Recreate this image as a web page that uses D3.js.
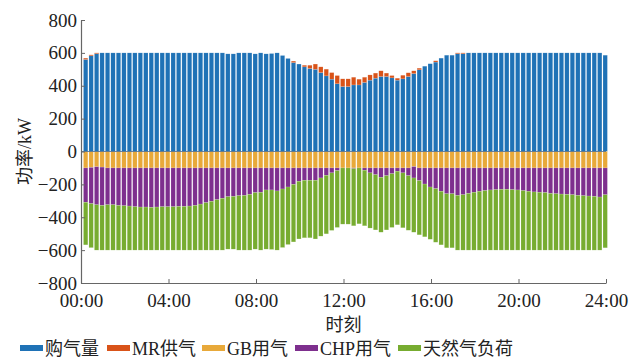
<!DOCTYPE html>
<html>
<head>
<meta charset="utf-8">
<script src="https://cdn.jsdelivr.net/npm/d3@7"></script>
<style>
  body { margin: 0; background: #fff; }
  svg text { font-family: "Liberation Serif", "Times New Roman", "Noto Sans CJK SC", serif; fill: #222; }
</style>
</head>
<body>
<svg width="641" height="360"></svg>
<script>
const svg = d3.select("svg");

// 15 min steps, 96 bars
const slots = d3.range(1, 97);

const buyGas = [560, 582, 595, 600, 600, 600, 600, 600, 600, 600, 600, 600, 600, 600, 600, 600,
  600, 600, 600, 600, 600, 600, 600, 600, 600, 600, 594, 594, 600, 600, 600, 594,
  600, 594, 596, 600, 584, 566, 541, 532, 515, 505, 500, 480, 460, 440, 412, 395,
  395, 405, 405, 420, 434, 446, 456, 456, 448, 434, 442, 456, 474, 497, 519, 534,
  544, 568, 586, 586, 595, 595, 600, 600, 600, 600, 600, 600, 600, 600, 600, 600,
  600, 600, 600, 600, 600, 600, 600, 600, 600, 600, 600, 600, 600, 600, 600, 586];

const mrGas = [8, 6, 5, 0, 0, 0, 0, 0, 0, 0, 0, 0, 0, 0, 0, 0,
  0, 0, 0, 0, 0, 0, 0, 0, 0, 0, 0, 0, 0, 0, 0, 0,
  0, 0, 0, 0, 0, 0, 9, 0, 10, 20, 32, 35, 41, 40, 50, 47,
  47, 47, 35, 32, 32, 31, 35, 21, 14, 12, 22, 23, 17, 10, 0, 0,
  8, 0, 0, 0, 5, 5, 0, 0, 0, 0, 0, 0, 0, 0, 0, 0,
  0, 0, 0, 0, 0, 0, 0, 0, 0, 0, 0, 0, 0, 0, 0, 0];

const gbGas = [100, 97, 93, 95, 100, 100, 100, 100, 100, 100, 100, 100, 100, 100, 100, 100,
  100, 100, 100, 100, 100, 100, 100, 100, 100, 100, 100, 100, 100, 100, 100, 100,
  100, 100, 100, 100, 100, 100, 100, 100, 100, 100, 100, 100, 100, 100, 100, 100,
  100, 100, 100, 100, 100, 100, 100, 100, 100, 100, 100, 100, 92, 100, 100, 100,
  100, 100, 100, 100, 100, 100, 100, 100, 100, 100, 100, 100, 100, 100, 100, 100,
  100, 100, 100, 100, 100, 100, 100, 100, 100, 100, 100, 100, 100, 100, 100, 100];

const chpGas = [209, 220, 231, 233, 224, 224, 228, 230, 232, 236, 238, 238, 240, 238, 236, 236,
  236, 234, 234, 232, 228, 220, 211, 203, 193, 185, 175, 173, 169, 167, 161, 150,
  148, 134, 134, 140, 128, 116, 100, 81, 75, 75, 75, 61, 45, 30, 16, 0,
  0, 4, 0, 14, 30, 41, 57, 47, 35, 20, 30, 47, 69, 77, 98, 116,
  126, 142, 157, 157, 167, 163, 155, 148, 142, 138, 134, 132, 130, 130, 132, 134,
  138, 142, 146, 148, 150, 155, 157, 159, 161, 163, 167, 169, 171, 173, 177, 163];

const gasLoad = [259, 268, 276, 272, 276, 276, 272, 270, 268, 264, 262, 262, 260, 262, 264, 264,
  264, 266, 266, 268, 272, 280, 289, 297, 307, 315, 319, 321, 331, 333, 339, 344,
  352, 360, 362, 360, 356, 350, 350, 351, 350, 350, 357, 354, 356, 350, 346, 342,
  342, 348, 340, 338, 336, 336, 334, 330, 327, 326, 334, 332, 330, 330, 321, 318,
  326, 326, 329, 329, 333, 337, 345, 352, 358, 362, 366, 368, 370, 370, 368, 366,
  362, 358, 354, 352, 350, 345, 343, 341, 339, 337, 333, 331, 329, 327, 323, 323];

const seriesNames = ["购气量", "MR供气", "GB用气", "CHP用气", "天然气负荷"];
const seriesColors = ["#1f72b6", "#d95319", "#e8a93a", "#7e2f8e", "#77ac30"];
const yTicks = [-800, -600, -400, -200, 0, 200, 400, 600, 800];
const xTicks = [0, 4, 8, 12, 16, 20, 24];

const keys = ["buy", "mr", "gb", "chp", "load"];
const rows = slots.map((s, i) => ({
  slot: s,
  buy: buyGas[i],
  mr: mrGas[i],
  gb: -gbGas[i],
  chp: -chpGas[i],
  load: -gasLoad[i]
}));

const stacked = d3.stack().keys(keys).offset(d3.stackOffsetDiverging)(rows);

const x = d3.scaleLinear().domain([0, 24]).range([81, 606]);
const y = d3.scaleLinear().domain([-800, 800]).range([283, 20]);
const color = d3.scaleOrdinal().domain(keys).range(seriesColors);

const step = x(0.25) - x(0);
const barW = step * 0.8;

svg.append("g")
  .selectAll("g")
  .data(stacked)
  .join("g")
  .attr("fill", d => color(d.key))
  .selectAll("rect")
  .data(d => d)
  .join("rect")
  .attr("x", d => x(d.data.slot * 0.25) - 0.8 - barW / 2)
  .attr("width", barW)
  .attr("y", d => y(Math.max(d[0], d[1])))
  .attr("height", d => Math.abs(y(d[0]) - y(d[1])))
  .attr("stroke", "rgba(255,255,255,0.35)")
  .attr("stroke-width", 0.4);

// zero line
svg.append("line")
  .attr("x1", x(0)).attr("x2", x(24))
  .attr("y1", y(0)).attr("y2", y(0))
  .attr("stroke", "#4a6a8a").attr("stroke-width", 0.8);

// axes, ticks inward like MATLAB
const yAxis = svg.append("g")
  .attr("transform", `translate(${x(0)},0)`)
  .call(d3.axisLeft(y).tickValues(yTicks).tickSizeInner(-4).tickSizeOuter(0).tickPadding(4));

const xAxis = svg.append("g")
  .attr("transform", `translate(0,${y(-800)})`)
  .call(d3.axisBottom(x).tickValues(xTicks).tickSizeInner(-4).tickSizeOuter(0).tickPadding(10)
    .tickFormat(d => String(d).padStart(2, "0") + ":00"));

[yAxis, xAxis].forEach(g => {
  g.select(".domain").attr("stroke", "#666").attr("stroke-width", 1.2);
  g.selectAll(".tick line").attr("stroke", "#666");
  g.selectAll(".tick text").attr("fill", "#222");
});
yAxis.selectAll(".tick text").style("font-size", "19px");
xAxis.selectAll(".tick text").style("font-size", "19px").attr("dy", "0.75em");

svg.append("text")
  .attr("transform", `translate(31,${y(0)}) rotate(-90)`)
  .attr("text-anchor", "middle")
  .style("font-size", "18px")
  .text("功率/kW");

svg.append("text")
  .attr("x", (x(0) + x(24)) / 2)
  .attr("y", 331)
  .attr("text-anchor", "middle")
  .style("font-size", "18px")
  .text("时刻");

// legend
const legendX = [20, 107, 202, 295, 398];
const leg = svg.append("g")
  .selectAll("g")
  .data(seriesNames)
  .join("g")
  .attr("transform", (d, i) => `translate(${legendX[i]},348)`);

leg.append("rect")
  .attr("x", 0).attr("y", -3)
  .attr("width", 23).attr("height", 6)
  .attr("fill", (d, i) => seriesColors[i]);

leg.append("text")
  .attr("x", 25).attr("y", 6.5)
  .style("font-size", "18px")
  .text(d => d);
</script>
</body>
</html>
